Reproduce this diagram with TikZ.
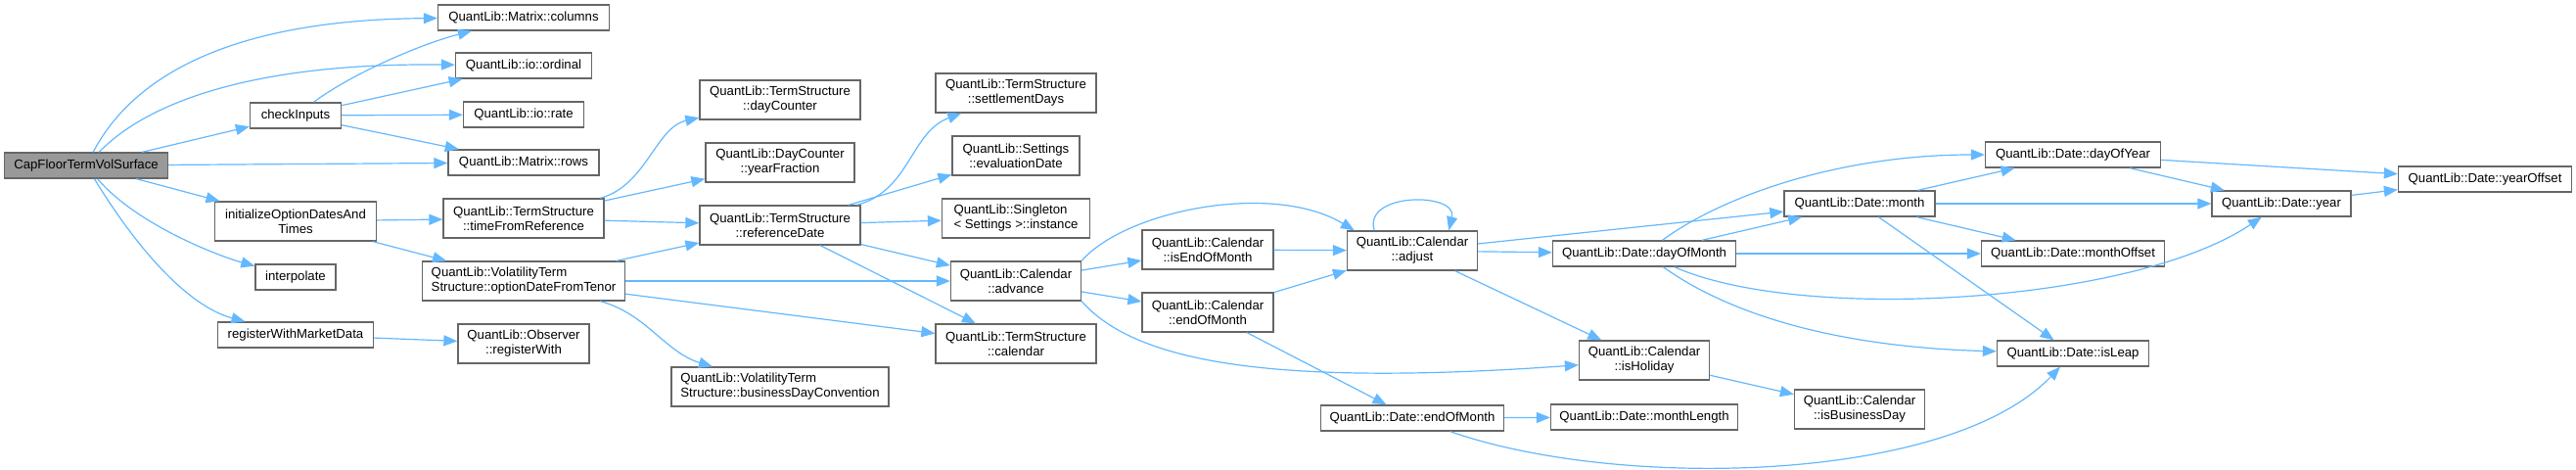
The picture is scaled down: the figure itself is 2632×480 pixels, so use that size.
\documentclass[tikz,border=0pt]{standalone}
\usepackage{fontspec}
\setmainfont{Liberation Sans}
\usepackage{tikz}
\usetikzlibrary{arrows.meta}
\definecolor{nborder}{HTML}{666666}
\definecolor{nroot}{HTML}{999999}
\definecolor{nedge}{HTML}{63B8FF}
\tikzset{
  box/.style={draw=nborder, fill=white, align=center, inner sep=2pt, minimum height=13pt,
              font=\fontsize{6.6}{7.5}\selectfont, line width=0.65pt},
  tall/.style={box, minimum height=20pt},
  root/.style={box, fill=nroot},
  edge/.style={-{Triangle[length=7pt,width=5.5pt]}, draw=nedge, line width=0.6pt},
}
\begin{document}
\begin{tikzpicture}[x=0.5pt, y=-0.5pt]
  \useasboundingbox (0,0) rectangle (2632,480);
  \node[root, minimum width=83.5pt] (cap) at (88,169) {CapFloorTermVolSurface};
  \node[box, minimum width=46.5pt] (checkIn) at (302,118) {checkInputs};
  \node[tall, minimum width=82.5pt] (initOpt) at (302,226) {initializeOptionDatesAnd\\Times};
  \node[box, minimum width=41pt] (interp) at (302,283) {interpolate};
  \node[box, minimum width=79.5pt] (regMkt) at (302,342) {registerWithMarketData};
  \node[box, minimum width=87.5pt] (columns) at (535,18) {QuantLib::Matrix::columns};
  \node[box, minimum width=69.5pt] (ordinal) at (535,67) {QuantLib::io::ordinal};
  \node[box, minimum width=61.5pt] (rate) at (535,117) {QuantLib::io::rate};
  \node[box, minimum width=77pt] (rows) at (535,166) {QuantLib::Matrix::rows};
  \node[tall, minimum width=82pt] (timeRef) at (535,223) {QuantLib::TermStructure\\::timeFromReference};
  \node[tall, minimum width=103.5pt, align=left] (optDate) at (535,287) {QuantLib::VolatilityTerm\\Structure::optionDateFromTenor};
  \node[tall, minimum width=67pt] (regWith) at (535,351) {QuantLib::Observer\\::registerWith};
  \node[tall, minimum width=82pt] (dayCnt) at (797,102) {QuantLib::TermStructure\\::dayCounter};
  \node[tall, minimum width=76pt] (yearFrac) at (797,166) {QuantLib::DayCounter\\::yearFraction};
  \node[tall, minimum width=82pt] (refDate) at (797,230) {QuantLib::TermStructure\\::referenceDate};
  \node[tall, minimum width=111pt, align=left] (bdc) at (797,395) {QuantLib::VolatilityTerm\\Structure::businessDayConvention};
  \node[tall, minimum width=82pt] (settle) at (1038,95) {QuantLib::TermStructure\\::settlementDays};
  \node[tall, minimum width=65pt] (evalDate) at (1038,159) {QuantLib::Settings\\::evaluationDate};
  \node[tall, minimum width=75.5pt, align=left] (instance) at (1038,223) {QuantLib::Singleton\\< Settings >::instance};
  \node[tall, minimum width=66.5pt] (advance) at (1038,287) {QuantLib::Calendar\\::advance};
  \node[tall, minimum width=82pt] (tsCal) at (1038,351) {QuantLib::TermStructure\\::calendar};
  \node[tall, minimum width=67pt] (isEom) at (1234,255) {QuantLib::Calendar\\::isEndOfMonth};
  \node[tall, minimum width=67pt] (calEom) at (1234,319) {QuantLib::Calendar\\::endOfMonth};
  \node[tall, minimum width=66.5pt] (adjust) at (1443,256) {QuantLib::Calendar\\::adjust};
  \node[box, minimum width=93.5pt] (dateEom) at (1443,427) {QuantLib::Date::endOfMonth};
  \node[box, minimum width=93.5pt] (dayOfMonth) at (1680,259) {QuantLib::Date::dayOfMonth};
  \node[tall, minimum width=66.5pt] (isHoliday) at (1680,368) {QuantLib::Calendar\\::isHoliday};
  \node[box, minimum width=95.5pt] (monthLen) at (1680,426) {QuantLib::Date::monthLength};
  \node[box, minimum width=77pt] (month) at (1900,208) {QuantLib::Date::month};
  \node[tall, minimum width=66.5pt] (isBizDay) at (1900,418) {QuantLib::Calendar\\::isBusinessDay};
  \node[box, minimum width=89.5pt] (dayOfYear) at (2118,158) {QuantLib::Date::dayOfYear};
  \node[box, minimum width=93.5pt] (monthOff) at (2118,259) {QuantLib::Date::monthOffset};
  \node[box, minimum width=77.5pt] (isLeap) at (2118,361) {QuantLib::Date::isLeap};
  \node[box, minimum width=71pt] (year) at (2331,208) {QuantLib::Date::year};
  \node[box, minimum width=88.5pt] (yearOff) at (2539,183) {QuantLib::Date::yearOffset};

  \draw[edge] (cap) .. controls (140,70) and (250,20) .. (columns);
  \draw[edge] (cap) .. controls (155,100) and (270,64) .. (ordinal);
  \draw[edge] (cap) -- (checkIn);
  \draw[edge] (cap) -- (rows);
  \draw[edge] (cap) -- (initOpt);
  \draw[edge] (cap) .. controls (140,230) and (225,262) .. (interp);
  \draw[edge] (cap) .. controls (150,270) and (200,315) .. (regMkt);
  \draw[edge] (checkIn) .. controls (360,75) and (430,45) .. (columns);
  \draw[edge] (checkIn) -- (ordinal);
  \draw[edge] (checkIn) -- (rate);
  \draw[edge] (checkIn) -- (rows);
  \draw[edge] (initOpt) -- (timeRef);
  \draw[edge] (initOpt) -- (optDate);
  \draw[edge] (regMkt) -- (regWith);
  \draw[edge] (timeRef) .. controls (660,190) and (670,130) .. (dayCnt);
  \draw[edge] (timeRef) -- (yearFrac);
  \draw[edge] (timeRef) -- (refDate);
  \draw[edge] (optDate) -- (refDate);
  \draw[edge] (optDate) -- (advance);
  \draw[edge] (optDate) -- (tsCal);
  \draw[edge] (optDate) .. controls (660,320) and (680,360) .. (bdc);
  \draw[edge] (refDate) .. controls (930,195) and (930,135) .. (settle);
  \draw[edge] (refDate) -- (evalDate);
  \draw[edge] (refDate) -- (instance);
  \draw[edge] (refDate) -- (advance);
  \draw[edge] (refDate) -- (tsCal);
  \draw[edge] (advance.north east) .. controls (1150,215) and (1300,185) .. ([xshift=4pt]adjust.north west);
  \draw[edge] (advance) -- (isEom);
  \draw[edge] (advance) -- (calEom);
  \draw[edge] (advance.south east) .. controls (1160,370) and (1300,395) .. (isHoliday);
  \draw[edge] (isEom) -- (adjust);
  \draw[edge] (calEom) -- (adjust);
  \draw[edge] (calEom) -- (dateEom);
  \draw[edge] (adjust.152) .. controls (1392,196) and (1490,196) .. (adjust.29);
  \draw[edge] (adjust) -- (month);
  \draw[edge] (adjust) -- (dayOfMonth);
  \draw[edge] (adjust) -- (isHoliday);
  \draw[edge] (dayOfMonth) .. controls (1760,200) and (1880,158) .. (dayOfYear);
  \draw[edge] (dayOfMonth) -- (month);
  \draw[edge] (dayOfMonth) -- (monthOff);
  \draw[edge] (dayOfMonth) .. controls (1840,330) and (2180,310) .. (year);
  \draw[edge] (dayOfMonth) .. controls (1780,330) and (1900,355) .. (isLeap);
  \draw[edge] (month) -- (dayOfYear);
  \draw[edge] (month) -- (year);
  \draw[edge] (month) -- (monthOff);
  \draw[edge] (month) -- (isLeap);
  \draw[edge] (dayOfYear) -- (yearOff);
  \draw[edge] (dayOfYear) -- (year);
  \draw[edge] (year) -- (yearOff);
  \draw[edge] (isHoliday) -- (isBizDay);
  \draw[edge] (dateEom) -- (monthLen);
  \draw[edge] (dateEom) .. controls (1650,500) and (1990,495) .. (isLeap);
\end{tikzpicture}
\end{document}
